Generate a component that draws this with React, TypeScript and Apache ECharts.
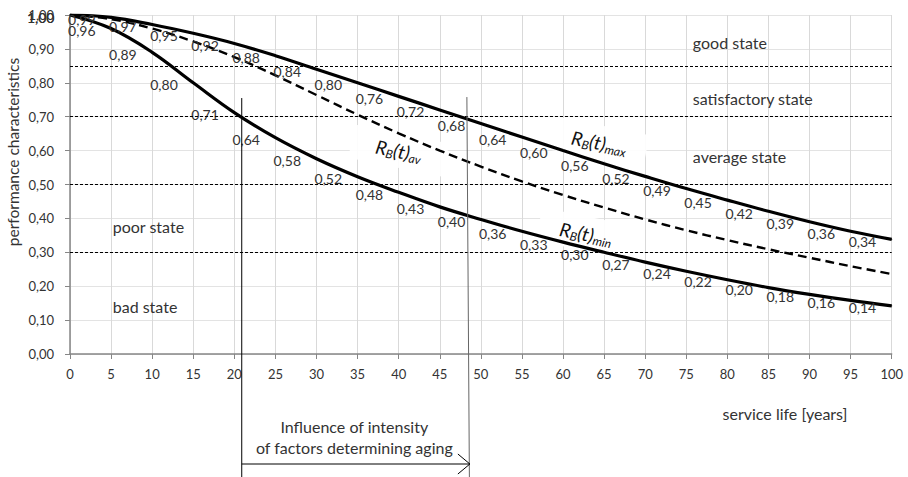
import React, { useEffect, useRef } from "react";
import * as echarts from "echarts";

// ---- data ----
const years = [0, 5, 10, 15, 20, 25, 30, 35, 40, 45, 50, 55, 60, 65, 70, 75, 80, 85, 90, 95, 100];
const rMax = [1.0, 0.993, 0.972, 0.946, 0.916, 0.88, 0.84, 0.8, 0.76, 0.72, 0.68, 0.64, 0.6, 0.561, 0.524, 0.488, 0.454, 0.421, 0.39, 0.362, 0.338];
const rAv = [1.0, 0.988, 0.96, 0.922, 0.876, 0.822, 0.764, 0.706, 0.651, 0.6, 0.553, 0.509, 0.469, 0.432, 0.397, 0.365, 0.336, 0.309, 0.284, 0.259, 0.236];
const rMin = [1.0, 0.96, 0.89, 0.8, 0.712, 0.638, 0.576, 0.523, 0.477, 0.434, 0.397, 0.362, 0.33, 0.3, 0.271, 0.244, 0.219, 0.196, 0.176, 0.158, 0.142];
const stateThresholds = [0.85, 0.7, 0.5, 0.3];
const stateNames = ["good state", "satisfactory state", "average state", "poor state", "bad state"];
const influenceRange = [20.9, 48.3];
const curveNames = ["max", "av", "min"];
const xAxisTitle = "service life [years]";
const yAxisTitle = "performance characteristics";
const influenceText = ["Influence of intensity", "of factors determining aging"];

// ---- layout (positions in data units) ----
const stateAnchors = [
  [75.8, 0.92],
  [75.8, 0.755],
  [75.8, 0.584],
  [5.2, 0.375],
  [5.2, 0.139],
];
const curveLabelAnchors = [
  [64.4, 0.624],
  [40.0, 0.60],
  [62.8, 0.355],
];

const FONT = "Lato";
const TXT = "#333333";
const fmt = (v: number) => v.toFixed(2).replace(".", ",");

export default function App() {
  const ref = useRef<HTMLDivElement>(null);

  useEffect(() => {
    if (!ref.current) return;
    const chart = echarts.init(ref.current, undefined, { renderer: "svg" });

    const labelCfg = {
      show: true,
      position: "left" as const,
      distance: 15,
      offset: [0, 2],
      fontFamily: FONT,
      fontSize: 14,
      color: TXT,
      formatter: (p: any) => fmt(p.value[1]),
    };

    chart.setOption({
      animation: false,
      grid: { left: 70, right: 16.3, top: 15, bottom: 123 },
      xAxis: {
        type: "value",
        min: 0,
        max: 100,
        interval: 5,
        axisLine: { show: true, onZero: false, lineStyle: { color: "#868686", width: 1.5 } },
        axisTick: { show: true, length: 5, lineStyle: { color: "#868686" } },
        axisLabel: { fontFamily: FONT, fontSize: 13, color: TXT, margin: 13 },
        splitLine: { show: true, lineStyle: { color: "#d9d9d9" } },
      },
      yAxis: {
        type: "value",
        min: 0,
        max: 1,
        interval: 0.1,
        axisLine: { show: true, lineStyle: { color: "#868686", width: 1.5 } },
        axisTick: { show: true, length: 5, lineStyle: { color: "#868686" } },
        axisLabel: { fontFamily: FONT, fontSize: 13, color: TXT, margin: 16, formatter: fmt },
        splitLine: { show: true, lineStyle: { color: "#e3e3e3" } },
      },
      series: [
        {
          name: "max",
          type: "line",
          smooth: 0.4,
          data: years.map((x, i) => [x, rMax[i]]),
          symbol: "circle",
          symbolSize: 1,
          itemStyle: { color: "#000" },
          lineStyle: { color: "#000", width: 3.2 },
          label: labelCfg,
          z: 3,
          markLine: {
            silent: true,
            symbol: ["none", "none"],
            label: { show: false },
            lineStyle: { color: "#000", type: [3, 2], width: 1 },
            data: stateThresholds.map((v) => ({ yAxis: v })),
          },
        },
        {
          name: "av",
          type: "line",
          smooth: 0.4,
          data: years.map((x, i) => [x, rAv[i]]),
          showSymbol: false,
          symbol: "none",
          lineStyle: { color: "#000", width: 2.4, type: [9, 5] },
          z: 3,
        },
        {
          name: "min",
          type: "line",
          smooth: 0.4,
          data: years.map((x, i) => [x, rMin[i]]),
          symbol: "circle",
          symbolSize: 1,
          itemStyle: { color: "#000" },
          lineStyle: { color: "#000", width: 3.2 },
          label: labelCfg,
          z: 3,
        },
      ],
    });

    const px = (x: number) => chart.convertToPixel({ xAxisIndex: 0 }, x) as number;
    const py = (y: number) => chart.convertToPixel({ yAxisIndex: 0 }, y) as number;
    const H = 477;
    const x1 = px(influenceRange[0]);
    const x2 = px(influenceRange[1]);
    const yTop = py(0.755);
    const arrowY = 464;
    const midX = (x1 + x2) / 2;

    const graphics: any[] = [];

    // state labels
    stateNames.forEach((t, i) => {
      graphics.push({
        type: "text",
        x: px(stateAnchors[i][0]),
        y: py(stateAnchors[i][1]),
        z: 5,
        style: { text: t, fontFamily: FONT, fontSize: 16, fill: TXT, align: "left", verticalAlign: "middle" },
      });
    });

    // curve labels with rotated white boxes
    curveNames.forEach((n, i) => {
      const cx = px(curveLabelAnchors[i][0]);
      const cy = py(curveLabelAnchors[i][1]);
      const rot = -0.2;
      graphics.push({
        type: "rect",
        x: cx,
        y: cy,
        rotation: rot,
        z: 1,
        shape: { x: -48, y: -17, width: 96, height: 34 },
        style: { fill: "rgba(255,255,255,0.9)" },
      });
      graphics.push({
        type: "text",
        x: cx,
        y: cy,
        rotation: rot,
        z: 6,
        style: {
          text: "{m|R}{s|B}{m|(t)}{s|" + n + "}",
          align: "center",
          verticalAlign: "middle",
          rich: {
            m: { fontFamily: FONT, fontSize: 19, fontStyle: "italic", fill: "#111", lineHeight: 22 },
            s: { fontFamily: FONT, fontSize: 12, fontStyle: "italic", fill: "#111", lineHeight: 12, verticalAlign: "bottom" },
          },
        },
      });
    });

    // influence annotation
    graphics.push({
      type: "line",
      z: 6,
      shape: { x1: x1, y1: yTop, x2: x1, y2: H },
      style: { stroke: "#000", lineWidth: 1 },
    });
    graphics.push({
      type: "line",
      z: 6,
      shape: { x1: x2, y1: yTop - 1, x2: x2 + 2.5, y2: H },
      style: { stroke: "#666", lineWidth: 1 },
    });
    graphics.push({
      type: "line",
      z: 6,
      shape: { x1: x1, y1: arrowY, x2: x2 + 3, y2: arrowY },
      style: { stroke: "#000", lineWidth: 1 },
    });
    graphics.push({
      type: "polyline",
      z: 6,
      shape: { points: [[x2 - 9, arrowY - 10], [x2 + 3, arrowY], [x2 - 9, arrowY + 10]] },
      style: { stroke: "#000", lineWidth: 1, fill: "none" },
    });
    influenceText.forEach((t, i) => {
      graphics.push({
        type: "text",
        x: midX,
        y: 426 + i * 21,
        z: 6,
        style: { text: t, fontFamily: FONT, fontSize: 16, fill: TXT, align: "center", verticalAlign: "middle" },
      });
    });

    // axis titles
    graphics.push({
      type: "text",
      x: 785,
      y: 413,
      z: 6,
      style: { text: xAxisTitle, fontFamily: FONT, fontSize: 16, fill: TXT, align: "center", verticalAlign: "middle" },
    });
    graphics.push({
      type: "text",
      x: 13,
      y: 152,
      rotation: Math.PI / 2,
      z: 6,
      style: { text: yAxisTitle, fontFamily: FONT, fontSize: 15.5, fill: TXT, align: "center", verticalAlign: "middle" },
    });

    chart.setOption({ graphic: graphics });

    return () => chart.dispose();
  }, []);

  return <div ref={ref} style={{ position: "fixed", left: 0, top: 0, width: 908, height: 477, background: "#fff" }} />;
}
